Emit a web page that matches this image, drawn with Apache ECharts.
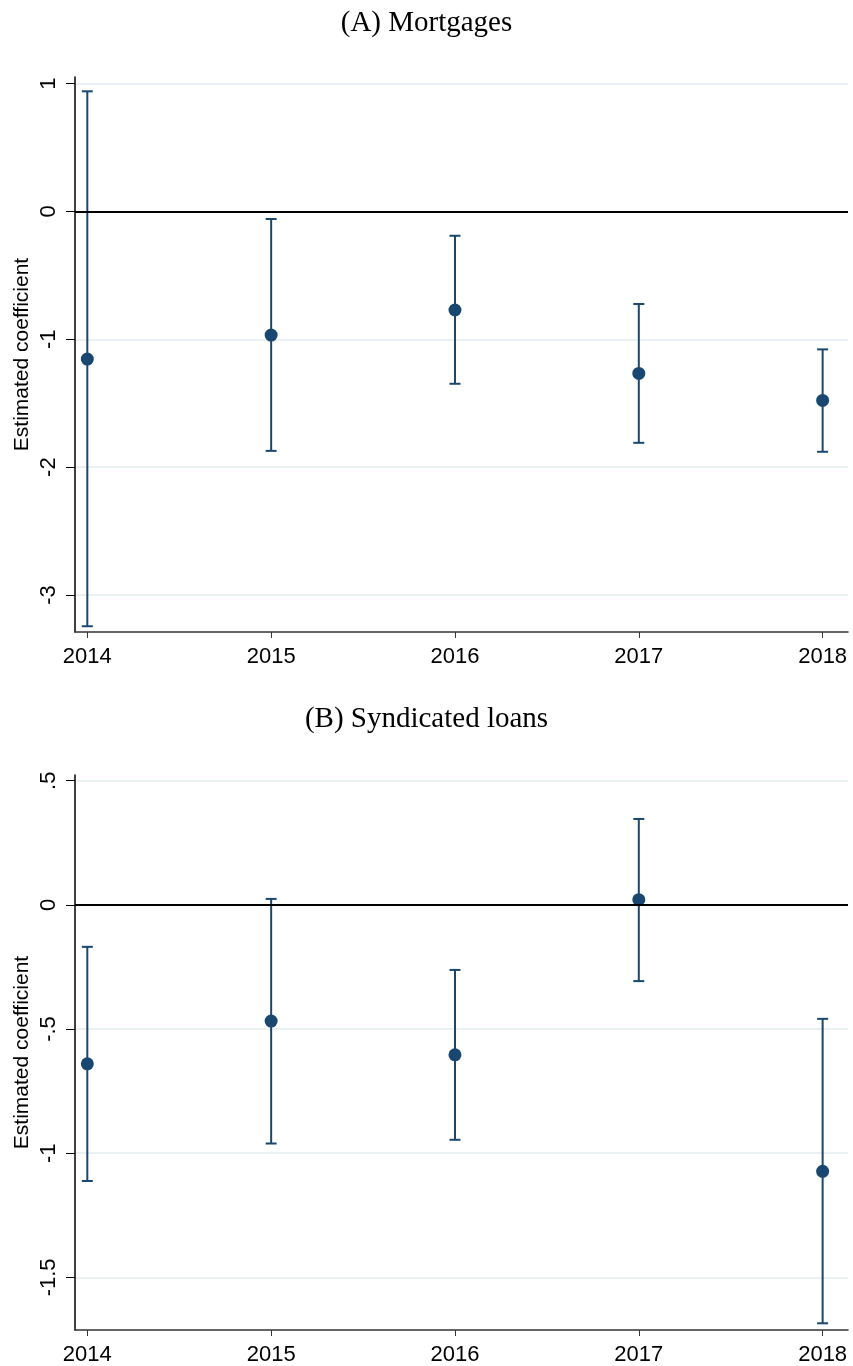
<!DOCTYPE html>
<html>
<head>
<meta charset="utf-8">
<script src="https://cdn.jsdelivr.net/npm/echarts@6/dist/echarts.min.js"></script>
<style>
  html, body { margin: 0; padding: 0; background: #fff; }
  #chart { width: 853px; height: 1366px; }
</style>
</head>
<body>
<div id="chart"></div>
<script>
// data
const years = [2014, 2015, 2016, 2017, 2018];

const mortCoef = [-1.155, -0.967, -0.771, -1.267, -1.478];
const mortLow  = [-3.245, -1.873, -1.348, -1.810, -1.880];
const mortHigh = [0.940, -0.059, -0.190, -0.724, -1.079];

const syndCoef = [-0.640, -0.468, -0.604, 0.021, -1.073];
const syndLow  = [-1.112, -0.961, -0.946, -0.307, -1.685];
const syndHigh = [-0.169, 0.024, -0.262, 0.346, -0.459];

const mortTicks = [1, 0, -1, -2, -3];
const syndTicks = [0.5, 0, -0.5, -1, -1.5];

const NAVY = '#1a476f';
const SANS = 'Liberation Sans, Arial, sans-serif';
const SERIF = 'Liberation Serif, serif';

const chart = echarts.init(document.getElementById('chart'));

function errBar(params, api) {
  const x = api.value(0);
  const lo = api.coord([x, api.value(1)]);
  const hi = api.coord([x, api.value(2)]);
  const half = 5.5;
  const style = { stroke: NAVY, lineWidth: 2 };
  return {
    type: 'group',
    children: [
      { type: 'line', shape: { x1: lo[0], y1: lo[1], x2: hi[0], y2: hi[1] }, style: style },
      { type: 'line', shape: { x1: lo[0] - half, y1: lo[1], x2: lo[0] + half, y2: lo[1] }, style: style },
      { type: 'line', shape: { x1: hi[0] - half, y1: hi[1], x2: hi[0] + half, y2: hi[1] }, style: style }
    ]
  };
}

// stata style: .5, -.5
function fmtY(v) {
  return String(v).replace(/^0\./, '.').replace(/^-0\./, '-.');
}

function xAxisFor(i) {
  return {
    type: 'value', gridIndex: i,
    min: 2013.933, max: 2018.138,
    axisLine: { show: true, onZero: false, lineStyle: { color: '#333', width: 1.5 } },
    axisTick: { show: true, length: 6, customValues: years, lineStyle: { color: '#333' } },
    axisLabel: { customValues: years, margin: 14, fontSize: 22, color: '#000', fontFamily: SANS,
      formatter: (v) => String(v) },
    splitLine: { show: false }
  };
}

function yAxisFor(i, min, max, ticks) {
  return {
    type: 'value', gridIndex: i,
    min: min, max: max,
    name: 'Estimated coefficient',
    nameLocation: 'middle', nameRotate: 90, nameGap: 42, nameMoveOverlap: false,
    nameTextStyle: { fontSize: 21, color: '#000', fontFamily: SANS },
    axisLine: { show: true, onZero: false, lineStyle: { color: '#000', width: 1.5 } },
    axisTick: { show: true, length: 9, customValues: ticks, lineStyle: { color: '#000' } },
    axisLabel: { customValues: ticks, rotate: 90, margin: 15, fontSize: 22, color: '#000', fontFamily: SANS, formatter: fmtY },
    splitLine: { show: true, lineStyle: { color: '#eaf1f3', width: 2 } }
  };
}

function panelSeries(i, coef, low, high) {
  return [
    {
      type: 'custom', xAxisIndex: i, yAxisIndex: i,
      renderItem: errBar,
      encode: { x: 0, y: [1, 2] },
      data: years.map((y, k) => [y, low[k], high[k]]),
      z: 3
    },
    {
      type: 'scatter', xAxisIndex: i, yAxisIndex: i,
      symbolSize: 13,
      itemStyle: { color: NAVY, opacity: 1 },
      data: years.map((y, k) => [y, coef[k]]),
      z: 4,
      markLine: {
        silent: true, symbol: 'none', animation: false,
        label: { show: false },
        lineStyle: { color: '#000', width: 2, type: 'solid' },
        data: [{ yAxis: 0 }]
      }
    }
  ];
}

const option = {
  animation: false,
  backgroundColor: '#fff',
  title: [
    { text: '(A) Mortgages', left: 'center', top: 4,
      textStyle: { fontFamily: SERIF, fontWeight: 'normal', fontSize: 29, color: '#000' } },
    { text: '(B) Syndicated loans', left: 'center', top: 700,
      textStyle: { fontFamily: SERIF, fontWeight: 'normal', fontSize: 29, color: '#000' } }
  ],
  grid: [
    { left: 75, right: 5, top: 77, bottom: 734 },
    { left: 75, right: 5, top: 775, bottom: 36 }
  ],
  xAxis: [xAxisFor(0), xAxisFor(1)],
  yAxis: [
    yAxisFor(0, -3.29, 1.052, mortTicks),
    yAxisFor(1, -1.712, 0.523, syndTicks)
  ],
  series: [
    ...panelSeries(0, mortCoef, mortLow, mortHigh),
    ...panelSeries(1, syndCoef, syndLow, syndHigh)
  ]
};

chart.setOption(option);
</script>
</body>
</html>
